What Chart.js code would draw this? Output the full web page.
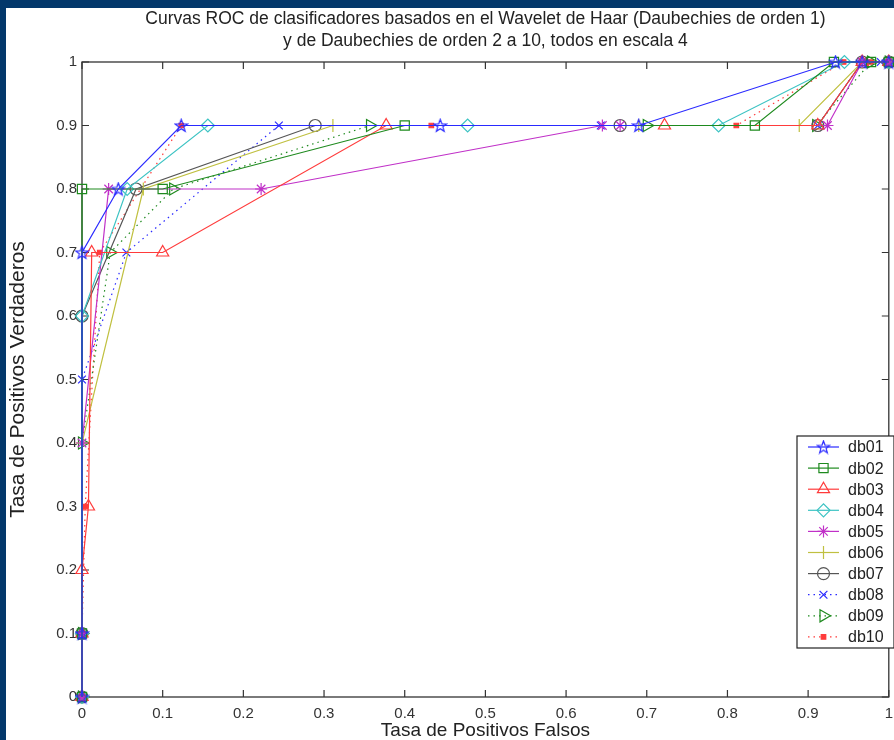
<!DOCTYPE html>
<html>
<head>
<meta charset="utf-8">
<script src="https://cdn.jsdelivr.net/npm/chart.js@4/dist/chart.umd.min.js"></script>
<style>
  html, body { margin: 0; padding: 0; background: #03386b; width: 894px; height: 740px; overflow: hidden; }
  #wrap { position: absolute; left: 6px; top: 8px; width: 891px; height: 732px; background: #fff; }
</style>
</head>
<body>
<div id="wrap"><canvas id="roc"></canvas></div>
<script>
// Axis tick labels (false positive rate on x, true positive rate on y)
const tickLabels = ['0', '0.1', '0.2', '0.3', '0.4', '0.5', '0.6', '0.7', '0.8', '0.9', '1'];
const seriesNames = ['db01', 'db02', 'db03', 'db04', 'db05', 'db06', 'db07', 'db08', 'db09', 'db10'];

// ROC points per wavelet: false positive rate / true positive rate
const db01Fpr = [0, 0, 0, 0.045, 0.123, 0.444, 0.69, 0.934, 0.967, 1];
const db01Tpr = [0, 0.1, 0.7, 0.8, 0.9, 0.9, 0.9, 1, 1, 1];
const db02Fpr = [0, 0, 0, 0.1, 0.4, 0.834, 0.932, 0.978, 1];
const db02Tpr = [0, 0.1, 0.8, 0.8, 0.9, 0.9, 1, 1, 1];
const db03Fpr = [0, 0, 0, 0.008, 0.012, 0.1, 0.377, 0.722, 0.912, 0.967, 1];
const db03Tpr = [0, 0.1, 0.2, 0.3, 0.7, 0.7, 0.9, 0.9, 0.9, 1, 1];
const db04Fpr = [0, 0, 0, 0.056, 0.156, 0.478, 0.789, 0.945, 1];
const db04Tpr = [0, 0.1, 0.6, 0.8, 0.9, 0.9, 0.9, 1, 1];
const db05Fpr = [0, 0, 0, 0.033, 0.222, 0.645, 0.667, 0.924, 0.967, 1];
const db05Tpr = [0, 0.1, 0.4, 0.8, 0.8, 0.9, 0.9, 0.9, 1, 1];
const db06Fpr = [0, 0, 0, 0.076, 0.311, 0.69, 0.889, 0.967, 1];
const db06Tpr = [0, 0.1, 0.4, 0.8, 0.9, 0.9, 0.9, 1, 1];
const db07Fpr = [0, 0, 0, 0.067, 0.289, 0.667, 0.912, 0.967, 1];
const db07Tpr = [0, 0.1, 0.6, 0.8, 0.9, 0.9, 0.9, 1, 1];
const db08Fpr = [0, 0, 0, 0.055, 0.244, 0.643, 0.912, 0.967, 0.99, 1];
const db08Tpr = [0, 0.1, 0.5, 0.7, 0.9, 0.9, 0.9, 1, 1, 1];
const db09Fpr = [0, 0, 0, 0.035, 0.113, 0.357, 0.7, 0.91, 0.978, 1];
const db09Tpr = [0, 0.1, 0.4, 0.7, 0.8, 0.9, 0.9, 0.9, 1, 1];
const db10Fpr = [0, 0, 0.004, 0.022, 0.123, 0.433, 0.811, 0.944, 0.978, 1];
const db10Tpr = [0, 0.1, 0.3, 0.7, 0.9, 0.9, 0.9, 1, 1, 1];

const fprSets = [db01Fpr, db02Fpr, db03Fpr, db04Fpr, db05Fpr, db06Fpr, db07Fpr, db08Fpr, db09Fpr, db10Fpr];
const tprSets = [db01Tpr, db02Tpr, db03Tpr, db04Tpr, db05Tpr, db06Tpr, db07Tpr, db08Tpr, db09Tpr, db10Tpr];

const FONT = "'Liberation Sans', Arial, Helvetica, sans-serif";

// Five-pointed outline star (pentagram) marker
function makeStar(color) {
  const c = document.createElement('canvas');
  c.width = 15; c.height = 15;
  const g = c.getContext('2d');
  g.strokeStyle = color; g.lineWidth = 1.2;
  g.beginPath();
  for (let i = 0; i < 10; i++) {
    const r = i % 2 === 0 ? 6.6 : 2.7;
    const a = -Math.PI / 2 + i * Math.PI / 5;
    const x = 7.5 + r * Math.cos(a), y = 8 + r * Math.sin(a);
    if (i === 0) g.moveTo(x, y); else g.lineTo(x, y);
  }
  g.closePath(); g.stroke();
  return c;
}

const styles = [
  { color: '#2a2aff', point: makeStar('#2a2aff'), radius: 7, dash: [] },
  { color: '#1e8a1e', point: 'rect', radius: 6.5, dash: [] },
  { color: '#ff3b3b', point: 'triangle', radius: 7, dash: [] },
  { color: '#3cc3c3', point: 'rectRot', radius: 6.5, dash: [] },
  { color: '#c030c8', point: 'star', radius: 6, dash: [] },
  { color: '#c0c040', point: 'cross', radius: 6.5, dash: [] },
  { color: '#555555', point: 'circle', radius: 6, dash: [] },
  { color: '#2a2aff', point: 'crossRot', radius: 5.5, dash: [1.5, 4] },
  { color: '#1e8a1e', point: 'triangle', radius: 7, rotation: 90, dash: [1.5, 4] },
  { color: '#ff3b3b', point: 'rect', radius: 3.2, fill: true, dash: [1.5, 4] }
];

const datasets = seriesNames.map((name, i) => ({
  label: name,
  data: fprSets[i].map((x, k) => ({ x: x, y: tprSets[i][k] })),
  borderColor: styles[i].color,
  backgroundColor: styles[i].fill ? styles[i].color : 'rgba(0,0,0,0)',
  pointBorderColor: styles[i].color,
  pointBackgroundColor: styles[i].fill ? styles[i].color : 'rgba(0,0,0,0)',
  borderWidth: 1.2,
  borderDash: styles[i].dash,
  pointStyle: styles[i].point,
  pointRadius: styles[i].radius,
  pointRotation: styles[i].rotation || 0,
  pointBorderWidth: 1.2,
  pointHoverRadius: styles[i].radius,
  showLine: true,
  tension: 0,
  clip: false
}));

// Plot frame with inward tick marks on all four sides
const framePlugin = {
  id: 'frame',
  beforeDatasetsDraw(chart) {
    const { ctx, chartArea: a, scales } = chart;
    ctx.save();
    ctx.strokeStyle = '#333';
    ctx.lineWidth = 1.3;
    ctx.strokeRect(a.left, a.top, a.right - a.left, a.bottom - a.top);
    ctx.lineWidth = 1.2;
    const len = 7;
    ctx.beginPath();
    scales.x.ticks.forEach(t => {
      const px = scales.x.getPixelForValue(t.value);
      ctx.moveTo(px, a.bottom); ctx.lineTo(px, a.bottom - len);
      ctx.moveTo(px, a.top); ctx.lineTo(px, a.top + len);
    });
    scales.y.ticks.forEach(t => {
      const py = scales.y.getPixelForValue(t.value);
      ctx.moveTo(a.left, py); ctx.lineTo(a.left + len, py);
      ctx.moveTo(a.right, py); ctx.lineTo(a.right - len, py);
    });
    ctx.stroke();
    ctx.restore();
  }
};

// Legend box with line sample, marker and name for each series
const legendPlugin = {
  id: 'rocLegend',
  afterDraw(chart) {
    const { ctx } = chart;
    const left = 791, top = 428, w = 97, h = 212, step = 21.1;
    ctx.save();
    ctx.fillStyle = '#fff';
    ctx.fillRect(left, top, w, h);
    ctx.strokeStyle = '#222';
    ctx.lineWidth = 1.2;
    ctx.strokeRect(left, top, w, h);
    chart.data.datasets.forEach((ds, i) => {
      const y = top + 11 + i * step;
      const st = styles[i];
      ctx.strokeStyle = st.color;
      ctx.lineWidth = 1.2;
      ctx.setLineDash(st.dash);
      ctx.beginPath();
      ctx.moveTo(left + 11, y); ctx.lineTo(left + 42, y);
      ctx.stroke();
      ctx.setLineDash([]);
      ctx.fillStyle = st.fill ? st.color : 'rgba(0,0,0,0)';
      Chart.helpers.drawPoint(ctx, {
        pointStyle: st.point, radius: st.radius, rotation: st.rotation || 0, borderWidth: 1.2
      }, left + 26.5, y);
      ctx.fillStyle = '#222';
      ctx.font = '16px ' + FONT;
      ctx.textBaseline = 'middle';
      ctx.textAlign = 'left';
      ctx.fillText(ds.label, left + 51, y + 1);
    });
    ctx.restore();
  }
};

new Chart(document.getElementById('roc'), {
  type: 'scatter',
  data: { datasets },
  plugins: [framePlugin, legendPlugin],
  options: {
    responsive: true,
    maintainAspectRatio: false,
    animation: false,
    events: [],
    layout: { padding: { left: 0, right: 0, top: 0, bottom: 0 } },
    plugins: {
      legend: { display: false },
      tooltip: { enabled: false },
      title: {
        display: true,
        fullSize: false,
        text: ['Curvas ROC de clasificadores basados en el Wavelet de Haar (Daubechies de orden 1)',
               'y de Daubechies de orden 2 a 10, todos en escala 4'],
        color: '#222',
        font: { family: FONT, size: 17.5, weight: 'normal', lineHeight: 22 / 17.5 },
        padding: { top: 0, bottom: 10 }
      }
    },
    scales: {
      x: {
        type: 'linear', min: 0, max: 1,
        afterFit(s) { s.height = 43; s.paddingLeft = 0; s.paddingRight = 3; },
        grid: { display: false, drawTicks: false },
        border: { display: false },
        ticks: {
          stepSize: 0.1, padding: 8, color: '#333', maxRotation: 0,
          font: { family: FONT, size: 15 },
          callback: (v, i) => tickLabels[i]
        },
        title: {
          display: true, text: 'Tasa de Positivos Falsos', color: '#222',
          font: { family: FONT, size: 19, lineHeight: 1 }, padding: { top: 0, bottom: 0 }
        }
      },
      y: {
        type: 'linear', min: 0, max: 1,
        afterFit(s) { s.width = 76; },
        grid: { display: false, drawTicks: false },
        border: { display: false },
        ticks: {
          stepSize: 0.1, padding: 5, color: '#333',
          font: { family: FONT, size: 15 },
          callback: (v, i) => tickLabels[i]
        },
        title: {
          display: true, text: 'Tasa de Positivos Verdaderos', color: '#222',
          font: { family: FONT, size: 21, lineHeight: 1 }, padding: { top: 2, bottom: 0 }
        }
      }
    }
  }
});
</script>
</body>
</html>
